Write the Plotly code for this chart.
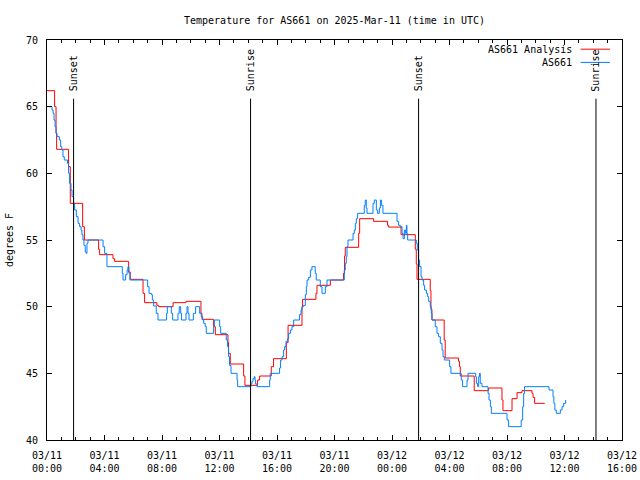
import pandas as pd
import plotly.graph_objects as go

# ---- data (hours after 2025-03-11 00:00 UTC) ----
red_hours = [
    0.00, 0.53, 0.63, 0.67, 1.50, 1.62, 2.48, 2.60, 3.59, 3.66,
    4.59, 4.70, 5.68, 5.79, 6.68, 6.79, 7.64, 7.77, 8.77, 9.67,
    10.71, 10.78, 11.59, 11.71, 12.59, 12.63, 12.75, 13.68, 13.77, 14.65,
    14.79, 15.60, 15.76, 16.65, 16.77, 17.74, 17.78, 18.71, 18.78, 19.71,
    20.63, 20.70, 20.75, 21.68, 21.75, 22.72, 23.69, 23.76, 24.63, 25.62,
    25.69, 25.74, 26.66, 26.71, 26.78, 27.63, 27.70, 28.63, 28.70, 28.75,
    29.72, 30.72, 31.65, 31.72, 32.35, 32.70, 33.04, 33.74, 33.81, 33.92,
    34.62]
red_temps = [
    66.2, 65.0, 63.0, 61.8, 60.5, 57.75, 56.0, 55.0, 54.3, 53.9,
    53.6, 53.4, 52.6, 52.05, 51.0, 50.3, 50.1, 50.0, 50.3, 50.4,
    49.5, 49.05, 48.5, 47.9, 47.3, 46.5, 45.7, 44.8, 44.1, 44.5,
    44.8, 45.5, 46.1, 47.3, 48.6, 50.0, 50.55, 51.0, 51.6, 52.0,
    52.5, 53.8, 54.45, 55.5, 56.6, 56.4, 56.1, 55.97, 55.4, 54.3,
    53.2, 52.05, 51.2, 49.8, 49.0, 47.5, 46.15, 45.9, 45.5, 44.8,
    43.7, 43.9, 43.0, 42.2, 43.1, 43.55, 43.7, 43.5, 43.2, 42.75,
    42.75]

blue_hours = [
    0.00, 0.35, 0.42, 0.49, 0.56, 0.63, 0.70, 0.86, 0.95, 1.03,
    1.11, 1.20, 1.43, 1.50, 1.57, 1.67, 1.74, 1.85, 1.92, 2.04,
    2.16, 2.27, 2.37, 2.43, 2.50, 2.57, 2.66, 2.73, 2.78, 2.85,
    3.90, 4.01, 4.17, 5.24, 5.29, 5.47, 5.57, 5.63, 5.70, 5.77,
    7.00, 7.10, 7.26, 7.33, 7.42, 7.60, 7.72, 8.32, 8.37, 8.65,
    8.74, 9.11, 9.20, 9.30, 9.36, 9.67, 9.74, 9.81, 9.88, 10.18,
    10.34, 10.62, 10.73, 10.83, 10.90, 11.01, 11.08, 11.59, 11.64, 12.01,
    12.08, 12.47, 12.56, 12.63, 12.70, 12.80, 13.22, 13.26, 14.19, 14.26,
    14.33, 14.42, 14.47, 14.51, 14.61, 15.49, 15.53, 16.18, 16.25, 16.35,
    16.46, 16.53, 16.63, 16.74, 16.81, 16.93, 17.04, 17.16, 17.57, 17.67,
    17.74, 17.85, 17.97, 18.04, 18.09, 18.20, 18.32, 18.43, 18.66, 18.73,
    19.01, 19.13, 19.36, 19.48, 20.68, 20.75, 20.82, 20.87, 20.94, 21.29,
    21.38, 21.45, 21.52, 21.61, 22.07, 22.14, 22.21, 22.26, 22.68, 22.77,
    22.91, 23.00, 23.12, 23.19, 23.26, 23.37, 24.35, 24.46, 24.58, 24.70,
    24.77, 24.86, 24.93, 25.00, 25.04, 25.09, 25.69, 25.76, 25.85, 25.92,
    26.02, 26.09, 26.20, 26.27, 26.39, 26.48, 26.55, 26.66, 26.73, 26.78,
    27.01, 27.13, 27.24, 27.36, 27.48, 27.55, 27.64, 28.01, 28.10, 28.82,
    28.91, 29.22, 29.29, 29.82, 29.87, 29.96, 30.03, 30.09, 30.14, 30.26,
    30.68, 30.75, 30.84, 30.91, 32.00, 32.11, 32.99, 33.09, 33.16, 33.22,
    34.92, 35.20, 35.26, 35.33, 35.43, 35.71, 35.83, 35.94, 36.08]
blue_temps = [
    65.0, 64.75, 64.5, 64.0, 63.5, 63.0, 62.75, 62.5, 62.0, 61.75,
    61.25, 61.0, 60.75, 60.0, 59.25, 58.75, 58.25, 57.75, 57.25, 56.75,
    56.25, 56.0, 55.75, 55.4, 55.0, 54.6, 54.1, 54.0, 54.75, 55.0,
    54.5, 54.0, 53.0, 52.5, 52.0, 52.4, 52.75, 53.0, 52.5, 52.0,
    51.5, 51.0, 50.9, 50.5, 50.05, 49.5, 49.0, 49.5, 50.0, 49.5,
    49.0, 49.5, 50.0, 49.5, 49.0, 49.5, 50.0, 49.5, 49.0, 49.5,
    50.0, 49.5, 49.25, 49.0, 48.75, 48.5, 48.0, 48.5, 49.0, 48.5,
    48.0, 47.5, 47.0, 46.25, 45.6, 45.0, 44.5, 44.0, 44.2, 44.4,
    44.6, 44.75, 44.5, 44.2, 44.0, 44.5, 45.0, 45.4, 46.0, 46.25,
    46.75, 47.0, 47.4, 47.6, 48.0, 48.25, 48.5, 49.0, 49.4, 49.75,
    50.0, 50.1, 50.9, 51.5, 52.0, 52.2, 52.75, 53.0, 52.5, 52.0,
    51.5, 51.0, 51.5, 52.0, 52.75, 53.25, 53.75, 54.5, 55.0, 55.5,
    55.75, 56.25, 56.6, 57.0, 57.6, 58.0, 57.4, 57.0, 57.75, 58.0,
    57.25, 57.0, 57.4, 58.0, 57.6, 57.0, 56.4, 56.1, 56.0, 55.5,
    55.1, 55.75, 55.5, 56.1, 55.5, 55.0, 54.75, 54.25, 53.5, 53.0,
    52.25, 52.0, 51.6, 51.25, 51.0, 50.75, 50.4, 50.0, 49.5, 49.0,
    48.5, 48.0, 47.75, 47.25, 46.75, 46.25, 46.0, 45.5, 45.0, 44.5,
    44.0, 44.5, 45.0, 44.75, 44.25, 44.0, 44.75, 45.0, 44.25, 44.0,
    43.5, 43.0, 42.5, 42.0, 41.5, 41.0, 41.5, 42.5, 43.5, 44.0,
    43.75, 43.25, 42.75, 42.25, 42.0, 42.25, 42.5, 42.75, 43.0]

sun_hours = [1.85, 14.16, 25.85, 38.19]
sun_labels = ["Sunset", "Sunrise", "Sunset", "Sunrise"]

tick_hours = [0, 4, 8, 12, 16, 20, 24, 28, 32, 36, 40]
tick_labels = ["03/11<br>00:00", "03/11<br>04:00", "03/11<br>08:00", "03/11<br>12:00",
               "03/11<br>16:00", "03/11<br>20:00", "03/12<br>00:00", "03/12<br>04:00",
               "03/12<br>08:00", "03/12<br>12:00", "03/12<br>16:00"]
y_ticks = [40, 45, 50, 55, 60, 65, 70]

series_names = ["AS661 Analysis", "AS661"]
series_colors = ["#ff0000", "#0080ff"]

base = pd.Timestamp("2025-03-11 00:00")


def to_time(hours):
    return base + pd.to_timedelta(hours, unit="h")


FONT = "DejaVu Sans Mono"

fig = go.Figure()
fig.add_trace(go.Scatter(x=to_time(red_hours), y=red_temps, mode="lines",
                         name=series_names[0],
                         line=dict(color=series_colors[0], width=1, shape="hv")))
fig.add_trace(go.Scatter(x=to_time(blue_hours), y=blue_temps, mode="lines",
                         name=series_names[1],
                         line=dict(color=series_colors[1], width=1, shape="hv")))

line_top = 65.6
for h, lab in zip(sun_hours, sun_labels):
    t = to_time([h])[0]
    fig.add_shape(type="line", xref="x", yref="y", x0=t, x1=t, y0=40, y1=line_top,
                  line=dict(color="black", width=1))
    fig.add_annotation(x=t, y=line_top, xref="x", yref="y", text=lab, textangle=-90,
                       showarrow=False, xanchor="center", yanchor="bottom", yshift=5,
                       font=dict(family=FONT, size=10, color="black"))

# legend drawn gnuplot-style (text left of sample)
leg_y = [0.977, 0.944]
for name, col, yy in zip(series_names, series_colors, leg_y):
    fig.add_annotation(x=0.9165, y=yy, xref="paper", yref="paper", text=name,
                       showarrow=False, xanchor="right", yanchor="middle",
                       font=dict(family=FONT, size=10, color="black"))
    fig.add_shape(type="line", xref="paper", yref="paper", x0=0.928, x1=0.979,
                  y0=yy, y1=yy, line=dict(color=col, width=1))

fig.add_annotation(x=-0.066, y=0.5, xref="paper", yref="paper", text="degrees F",
                   textangle=-90, showarrow=False, xanchor="center", yanchor="middle",
                   font=dict(family=FONT, size=10, color="black"))

fig.update_layout(
    width=640, height=480, autosize=False,
    margin=dict(l=47, r=18, t=40, b=40),
    plot_bgcolor="white", paper_bgcolor="white",
    font=dict(family=FONT, size=10, color="black"),
    showlegend=False,
    title=dict(text="Temperature for AS661 on 2025-Mar-11 (time in UTC)",
               x=0.5, xref="paper", xanchor="center",
               y=1 - 20.5 / 480, yref="container", yanchor="middle",
               font=dict(family=FONT, size=10, color="black"), automargin=False),
)
fig.update_xaxes(
    type="date", range=[to_time([0])[0], to_time([40])[0]], automargin=False,
    tickmode="array", tickvals=to_time(tick_hours), ticktext=tick_labels,
    showline=True, linecolor="black", linewidth=1, mirror="allticks",
    ticks="inside", ticklen=5, tickcolor="black", tickwidth=1,
    ticklabelstandoff=6,
    showgrid=False, zeroline=False,
    minor=dict(tickmode="linear", tick0=to_time([0])[0], dtick=3600000,
               ticks="inside", ticklen=3, tickcolor="black", tickwidth=1, showgrid=False),
)
fig.update_yaxes(
    range=[40, 70], automargin=False, tickmode="array", tickvals=y_ticks,
    showline=True, linecolor="black", linewidth=1, mirror="allticks",
    ticks="inside", ticklen=5, tickcolor="black", tickwidth=1,
    ticklabelstandoff=6,
    showgrid=False, zeroline=False,
)

pin_script = (
    "var d=document.getElementById('{plot_id}');"
    "d.style.position='fixed';d.style.left='0px';d.style.top='0px';"
    "document.documentElement.style.overflow='hidden';"
    "document.body.style.margin='0';document.body.style.overflow='hidden';"
)
fig.write_html("out.html", config={"displayModeBar": False, "responsive": False},
               post_script=pin_script)
